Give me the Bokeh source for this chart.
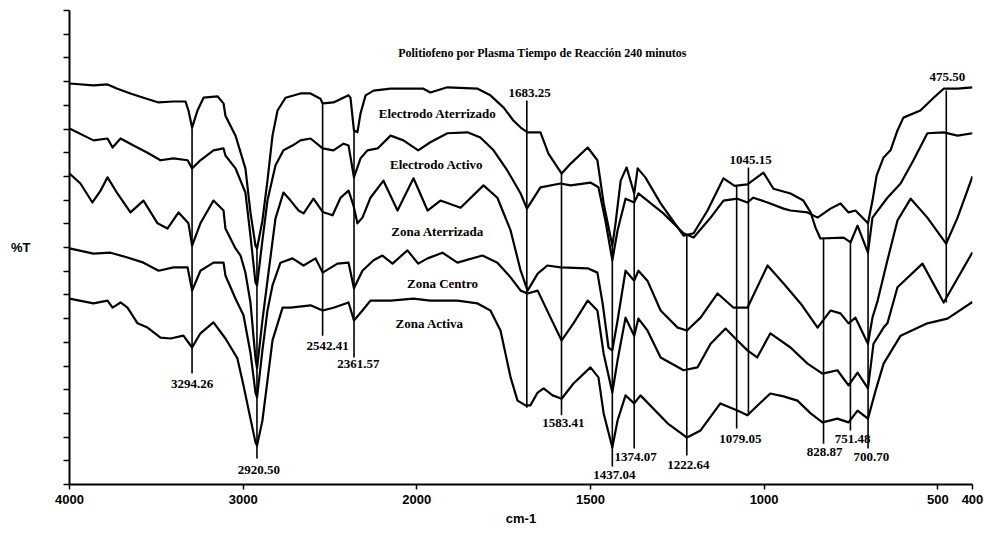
import numpy as np
from bokeh.plotting import figure
from bokeh.models import Range1d, FixedTicker, CustomJSTickFormatter, Label
from bokeh.embed import file_html
from bokeh.resources import INLINE
from bokeh.core.properties import value

# ---------------- data (wavenumber cm-1, %T) ----------------
ea_wn = [4000, 3862, 3781, 3724, 3649, 3574, 3487, 3401, 3332, 3315, 3294, 3263, 3228, 3148, 3113, 3102,
         3044, 2987, 2958, 2929, 2920, 2889, 2860, 2831, 2802, 2756, 2670, 2612, 2555, 2542, 2480, 2393,
         2382, 2362, 2342, 2324, 2295, 2249, 2151, 1981, 1961, 1912, 1825, 1788, 1750, 1722, 1701, 1681,
         1644, 1621, 1583, 1557, 1508, 1480, 1462, 1437, 1428, 1413, 1396, 1374, 1364, 1342, 1298, 1232,
         1203, 1163, 1117, 1085, 1048, 1002, 973, 924, 887, 866, 852, 838, 771, 751, 731, 701, 688, 645,
         607, 570, 530, 483, 443, 400]
ea_t = [84.6, 84.2, 84.4, 83.5, 82.5, 81.6, 80.6, 80.8, 80.8, 78.9, 75.3, 78.9, 81.6, 81.9, 80.4, 77.8,
        73.6, 66.7, 57.4, 50.4, 49.8, 55.7, 64.1, 73.6, 78.9, 81.6, 82.5, 82.5, 81.4, 80.4, 80.6, 82.1,
        81.6, 74.7, 74.3, 78.3, 82.1, 83.1, 83.5, 83.5, 82.7, 83.8, 83.5, 82.1, 79.5, 76.8, 75.3, 74.3,
        74.3, 69.8, 65.6, 67.7, 71.1, 68.4, 59.3, 50.4, 55.0, 64.1, 66.9, 61.4, 66.7, 64.8, 59.3, 52.5,
        53.0, 57.8, 64.6, 63.0, 63.3, 65.8, 62.4, 61.4, 59.9, 57.4, 54.2, 51.9, 52.1, 51.1, 54.6, 48.9, 56.3, 60.5,
        63.5, 68.4, 74.1, 74.3, 73.6, 74.1]

eac_wn = [4000, 3862, 3781, 3752, 3706, 3631, 3551, 3476, 3401, 3320, 3294, 3246, 3171, 3113, 3102, 3044,
          2987, 2958, 2929, 2920, 2889, 2860, 2814, 2768, 2716, 2670, 2612, 2542, 2480, 2422, 2393, 2362,
          2324, 2284, 2226, 2151, 2077, 1996, 1961, 1912, 1854, 1817, 1779, 1739, 1701, 1683, 1644, 1586,
          1557, 1500, 1477, 1457, 1437, 1422, 1399, 1374, 1362, 1336, 1290, 1232, 1203, 1154, 1117, 1077,
          1048, 1031, 990, 944, 924, 875, 846, 809, 780, 757, 737, 701, 688, 676, 656, 636, 616, 599, 550,
          512, 483, 443, 400]
eac_t = [75.1, 72.6, 73.0, 71.1, 73.0, 71.5, 70.0, 68.4, 68.8, 68.4, 66.7, 68.4, 70.5, 70.9, 69.4, 66.7,
         61.6, 52.5, 42.6, 42.0, 51.5, 59.9, 67.3, 70.5, 71.5, 72.6, 73.0, 70.9, 70.5, 71.9, 71.5, 64.8,
         68.8, 70.5, 70.9, 73.6, 72.6, 70.5, 72.2, 74.1, 74.3, 73.2, 70.5, 66.2, 61.4, 58.2, 62.7, 63.5,
         63.1, 63.7, 62.7, 55.7, 47.3, 53.6, 60.3, 59.5, 61.4, 59.9, 57.2, 53.0, 52.1, 56.3, 59.9, 60.3,
         59.5, 60.5, 59.5, 58.2, 57.8, 57.4, 56.3, 58.2, 59.3, 57.4, 57.8, 55.1, 59.9, 65.2, 69.0, 70.5, 74.7, 77.4, 78.9,
         81.6, 83.5, 83.5, 83.8]

za_wn = [4000, 3937, 3868, 3821, 3781, 3724, 3649, 3574, 3493, 3436, 3372, 3315, 3294, 3246, 3171, 3113,
         3102, 3044, 3015, 2987, 2958, 2929, 2920, 2889, 2860, 2814, 2768, 2727, 2681, 2652, 2595, 2542,
         2485, 2439, 2393, 2365, 2342, 2313, 2267, 2192, 2111, 2019, 1969, 1932, 1874, 1808, 1768, 1730,
         1701, 1681, 1652, 1624, 1586, 1508, 1480, 1465, 1448, 1437, 1422, 1399, 1374, 1362, 1336, 1298,
         1249, 1222, 1183, 1134, 1088, 1048, 990, 944, 895, 846, 809, 780, 757, 737, 701, 688, 673, 645,
         616, 578, 530, 476, 443, 400]
za_t = [65.6, 63.5, 59.5, 62.0, 64.8, 61.4, 57.4, 59.9, 55.1, 54.0, 57.4, 55.1, 50.4, 55.1, 59.9, 57.8,
        54.0, 49.8, 48.3, 44.7, 38.4, 26.6, 24.5, 34.6, 43.0, 56.1, 61.6, 59.9, 57.8, 57.2, 60.3, 57.5,
        56.8, 60.5, 62.0, 58.9, 55.1, 56.3, 60.5, 64.1, 57.8, 64.6, 57.8, 59.9, 58.4, 63.1, 60.5, 53.6,
        45.1, 40.9, 44.5, 46.2, 45.8, 45.6, 44.7, 38.2, 28.9, 28.3, 34.6, 45.1, 43.0, 45.1, 43.0, 36.7,
        33.1, 32.5, 35.2, 40.3, 37.3, 37.3, 46.2, 42.4, 38.2, 33.1, 36.7, 36.1, 34.0, 35.2, 29.7, 35.2, 38.8, 47.3,
        55.7, 60.3, 56.3, 50.8, 56.3, 65.0]

zc_wn = [4000, 3862, 3764, 3666, 3574, 3487, 3401, 3320, 3294, 3246, 3171, 3113, 3102, 3044, 2998, 2958,
         2929, 2920, 2889, 2860, 2831, 2785, 2716, 2652, 2583, 2542, 2457, 2393, 2362, 2313, 2249, 2198,
         2140, 2054, 1996, 1969, 1926, 1883, 1811, 1768, 1730, 1701, 1681, 1652, 1615, 1583, 1549, 1508,
         1480, 1462, 1437, 1422, 1399, 1374, 1362, 1336, 1298, 1232, 1192, 1154, 1111, 1077, 1048, 1020,
         982, 924, 875, 832, 789, 757, 731, 701, 685, 656, 645, 616, 544, 483, 400]
zc_t = [49.8, 48.7, 48.9, 47.9, 46.8, 45.1, 45.8, 45.8, 40.9, 45.1, 46.8, 46.8, 44.1, 39.2, 35.7, 27.8,
        19.4, 18.4, 28.3, 36.7, 42.0, 46.8, 47.7, 46.2, 47.7, 44.7, 46.6, 46.8, 41.4, 45.1, 47.3, 48.3,
        46.6, 49.4, 46.6, 47.7, 48.9, 46.8, 48.3, 46.8, 43.7, 40.9, 40.3, 40.9, 35.2, 30.4, 34.0, 38.8,
        36.7, 27.6, 19.4, 26.2, 35.2, 31.4, 35.0, 32.5, 26.8, 24.1, 24.7, 29.7, 32.9, 30.4, 28.3, 26.8,
        31.9, 28.9, 25.5, 23.4, 24.1, 20.9, 23.6, 20.3, 29.7, 33.1, 34.0, 41.6, 46.6, 38.4, 49.0]

zac_wn = [4000, 3862, 3781, 3752, 3706, 3666, 3608, 3551, 3476, 3418, 3344, 3294, 3246, 3171, 3102, 3033,
          2998, 2958, 2929, 2920, 2889, 2860, 2831, 2773, 2727, 2612, 2542, 2480, 2393, 2362, 2313, 2267,
          2151, 2019, 1961, 1883, 1825, 1788, 1759, 1730, 1710, 1687, 1673, 1652, 1635, 1609, 1583, 1549,
          1500, 1477, 1462, 1437, 1422, 1399, 1374, 1356, 1278, 1222, 1183, 1126, 1077, 1048, 1010, 982,
          944, 904, 866, 832, 789, 757, 731, 701, 679, 656, 607, 530, 472, 400]
zac_t = [39.2, 38.2, 38.8, 37.3, 38.4, 37.3, 34.0, 33.1, 31.0, 30.8, 31.4, 28.9, 31.9, 34.2, 30.8, 26.6,
         20.9, 13.9, 8.9, 8.2, 13.5, 21.9, 30.4, 37.3, 37.3, 37.8, 36.7, 37.3, 38.4, 34.6, 36.7, 38.8,
         38.8, 39.2, 38.8, 38.8, 38.2, 36.7, 32.5, 22.6, 17.7, 16.7, 16.7, 19.4, 20.3, 18.8, 18.1, 21.3,
         24.7, 22.6, 15.0, 7.8, 13.5, 18.8, 17.1, 18.8, 12.9, 9.9, 11.4, 17.1, 15.6, 14.6, 17.3, 19.2,
         18.6, 17.7, 15.0, 13.1, 13.9, 13.1, 15.6, 13.9, 19.8, 25.5, 31.4, 34.0, 35.0, 38.5]

series_names = ["Electrodo Aterrizado", "Electrodo Activo", "Zona Aterrizada", "Zona Centro", "Zona Activa"]
name_wn = [1940, 1943, 1940, 1926, 1963]
name_t = [78.3, 67.5, 53.4, 42.4, 34.0]

peak_wn = [3294.26, 2920.50, 2542.41, 2361.57, 1683.25, 1583.41, 1437.04, 1374.07, 1222.64,
           1079.05, 1045.15, 828.87, 751.48, 700.70, 475.50]
peak_text = ["3294.26", "2920.50", "2542.41", "2361.57", "1683.25", "1583.41", "1437.04", "1374.07",
             "1222.64", "1079.05", "1045.15", "828.87", "751.48", "700.70", "475.50"]
peak_top = [75.3, 49.8, 80.4, 74.7, 81.0, 65.6, 50.4, 61.4, 52.5, 63.1, 66.9, 52.1, 51.5, 55.1, 83.1]
peak_bottom = [23.4, 5.5, 31.4, 26.8, 16.2, 14.6, 3.8, 7.6, 6.1, 11.8, 14.6, 8.6, 11.4, 7.6, 38.4]
peak_label_wn = [3294, 2910, 2514, 2336, 1675, 1578, 1431, 1370, 1218, 1068, 1039, 826, 745, 691, 472]
peak_label_t = [21.3, 3.0, 29.3, 25.5, 82.5, 12.9, 1.9, 5.7, 4.2, 9.7, 68.4, 6.8, 9.7, 5.7, 85.9]

tick_wn = [4000, 3000, 2000, 1500, 1000, 500, 400]
title_text = "Politiofeno por Plasma Tiempo de Reacción 240 minutos"


def ir_axis(wn):
    """Instrument abscissa: 1x scale above 2000 cm-1, 2x expanded below 2000 cm-1."""
    w = np.asarray(wn, dtype=float)
    return np.where(w >= 2000, 4000 - w, 6000 - 2 * w)


p = figure(width=984, height=538, output_backend="svg", toolbar_location=None,
           x_range=Range1d(0, 5200), y_range=Range1d(0, 100),
           min_border_left=69, min_border_right=12, min_border_top=10, min_border_bottom=54)
p.background_fill_color = "white"
p.border_fill_color = "white"
p.outline_line_color = None
p.xgrid.visible = False
p.ygrid.visible = False

serif = "Liberation Serif"
sans = "Liberation Sans"

# x axis
xa = p.xaxis[0]
xa.ticker = FixedTicker(ticks=[float(v) for v in ir_axis(tick_wn)])
xa.formatter = CustomJSTickFormatter(code="return String(tick <= 2000 ? 4000 - tick : 3000 - tick / 2);")
xa.axis_line_width = 2
xa.axis_line_color = "black"
xa.major_tick_line_width = 1.5
xa.major_tick_out = 5
xa.major_tick_in = 0
xa.minor_tick_line_color = None
xa.major_label_text_font = sans
xa.major_label_text_font_style = "bold"
xa.major_label_text_font_size = "13px"
xa.major_label_text_color = "black"
xa.major_label_standoff = 5
xa.axis_label = "cm-1"
xa.axis_label_text_font = sans
xa.axis_label_text_font_style = "bold"
xa.axis_label_text_font_size = "13px"
xa.axis_label_text_color = "black"
xa.axis_label_standoff = 4

# y axis: ticks only, no numbers
ya = p.yaxis[0]
ya.ticker = FixedTicker(ticks=list(range(0, 101, 5)))
ya.formatter = CustomJSTickFormatter(code="return '';")
ya.axis_line_width = 2
ya.axis_line_color = "black"
ya.major_tick_line_width = 1.5
ya.major_tick_out = 6
ya.major_tick_in = 0
ya.minor_tick_line_color = None
ya.major_label_text_font_size = "13px"
ya.major_label_standoff = 0
ya.axis_label = "%T"
ya.axis_label_orientation = "horizontal"
ya.axis_label_text_font = sans
ya.axis_label_text_font_style = "bold"
ya.axis_label_text_font_size = "13px"
ya.axis_label_text_color = "black"
ya.axis_label_standoff = 33

# spectra
for wn, t in [(ea_wn, ea_t), (eac_wn, eac_t), (za_wn, za_t), (zc_wn, zc_t), (zac_wn, zac_t)]:
    p.line(ir_axis(wn), t, line_color="black", line_width=2.2, line_join="round")

# peak marker lines and labels
p.segment(x0=ir_axis(peak_wn), y0=peak_top, x1=ir_axis(peak_wn), y1=peak_bottom,
          line_color="black", line_width=1.6)
p.text(x=ir_axis(peak_label_wn), y=peak_label_t, text=peak_text, text_align="center",
       text_baseline="middle", text_font=value(serif), text_font_style="bold",
       text_font_size="13px", text_color="black")

# series names
p.text(x=ir_axis(name_wn), y=name_t, text=series_names, text_align="center",
       text_baseline="middle", text_font=value(serif), text_font_style="bold",
       text_font_size="13px", text_color="black")

# title inside plot area
p.add_layout(Label(x=float(ir_axis(1638)), y=91.1, text=title_text, text_align="center",
                   text_baseline="middle", text_font=serif, text_font_style="bold",
                   text_font_size="12px", text_color="black"))

open("out.html", "w").write(file_html(p, INLINE))
